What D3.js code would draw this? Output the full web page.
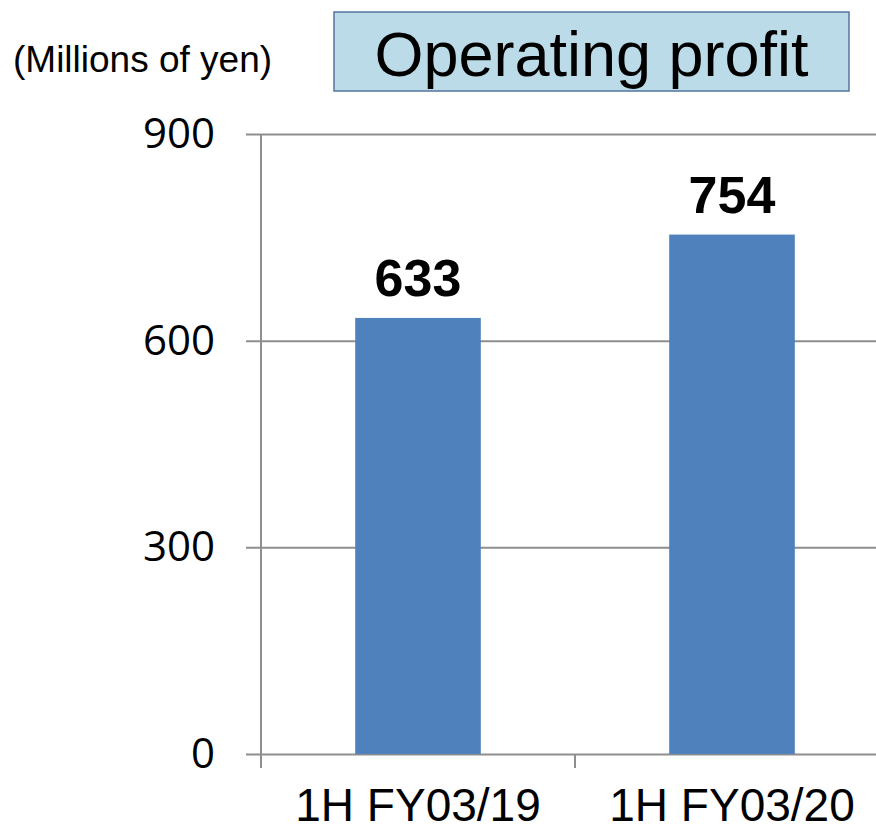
<!DOCTYPE html>
<html>
<head>
<meta charset="utf-8">
<script src="https://cdn.jsdelivr.net/npm/d3@7"></script>
<style>
  html, body { margin: 0; padding: 0; background: #fff; }
  svg { display: block; }
</style>
</head>
<body>
<figure id="bar" style="margin:0"></figure>
<script>
const categories = ["1H FY03/19", "1H FY03/20"];
const values = [633, 754];
const yTicks = [0, 300, 600, 900];
const unitLabel = "(Millions of yen)";
const title = "Operating profit";

const W = 876, H = 830;
const margin = { top: 134, left: 261, bottom: 76 };
const width = 628;               // plot runs past the right edge, like the original
const height = H - margin.top - margin.bottom;

const svg = d3.select("figure#bar")
  .append("svg")
  .attr("width", W)
  .attr("height", H);

// title box
svg.append("rect")
  .attr("x", 334).attr("y", 12)
  .attr("width", 515).attr("height", 79)
  .attr("fill", "#bcdbe8")
  .attr("stroke", "#5676a0")
  .attr("stroke-width", 1.5);
svg.append("text")
  .attr("x", 591.5).attr("y", 76)
  .attr("text-anchor", "middle")
  .style("font-family", "'Liberation Sans', Arial, sans-serif")
  .style("font-size", "63px")
  .text(title);

svg.append("text")
  .attr("x", 13).attr("y", 72)
  .style("font-family", "'Liberation Sans', Arial, sans-serif")
  .style("font-size", "37px")
  .text(unitLabel);

const g = svg.append("g")
  .attr("transform", "translate(" + margin.left + "," + margin.top + ")");

// scales
const x = d3.scaleBand()
  .domain(categories)
  .range([0, width])
  .paddingInner(0.6)
  .paddingOuter(0.3);

const y = d3.scaleLinear()
  .domain([0, 900])
  .range([height, 0]);

// gridlines + y tick labels
const yAxis = g.append("g")
  .attr("transform", "translate(-15,0)")
  .call(d3.axisLeft(y).tickValues(yTicks).tickSize(-(width + 15)).tickPadding(31));
yAxis.select(".domain").remove();
yAxis.selectAll(".tick line")
  .attr("stroke", "#8e8e8e")
  .attr("stroke-width", 2);
yAxis.selectAll(".tick text")
  .attr("fill", "#000")
  .style("font-family", "'Open Sans', sans-serif")
  .style("font-size", "42px");

// bars
g.selectAll("rect.bar")
  .data(values)
  .enter()
  .append("rect")
  .attr("class", "bar")
  .attr("x", (d, i) => x(categories[i]))
  .attr("y", d => y(d))
  .attr("width", x.bandwidth())
  .attr("height", d => height - y(d))
  .attr("fill", "#4f81bd");

// value labels
g.selectAll("text.val")
  .data(values)
  .enter()
  .append("text")
  .attr("class", "val")
  .attr("x", (d, i) => x(categories[i]) + x.bandwidth() / 2)
  .attr("y", d => y(d) - 22)
  .attr("text-anchor", "middle")
  .style("font-family", "'Liberation Sans', Arial, sans-serif")
  .style("font-size", "52px")
  .style("font-weight", "bold")
  .text(d => d);

// vertical axis line
g.append("line")
  .attr("x1", 0).attr("x2", 0)
  .attr("y1", y(900)).attr("y2", height + 14)
  .attr("stroke", "#8e8e8e")
  .attr("stroke-width", 2);

// x axis: labels at band centres, tick marks at band edges
const xAxis = g.append("g")
  .attr("transform", "translate(0," + height + ")")
  .call(d3.axisBottom(x).tickSize(0).tickPadding(34));
xAxis.select(".domain").remove();
xAxis.selectAll(".tick text")
  .attr("fill", "#000")
  .style("font-family", "'Liberation Sans', Arial, sans-serif")
  .style("font-size", "46px");

g.selectAll("line.xtick")
  .data(d3.range(categories.length + 1))
  .enter()
  .append("line")
  .attr("class", "xtick")
  .attr("x1", i => i * x.step())
  .attr("x2", i => i * x.step())
  .attr("y1", height)
  .attr("y2", height + 14)
  .attr("stroke", "#8e8e8e")
  .attr("stroke-width", 2);
</script>
</body>
</html>
